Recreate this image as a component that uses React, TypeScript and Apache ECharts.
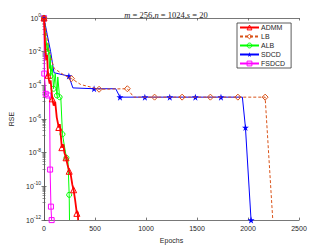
import React, { useEffect, useRef } from "react";
import * as echarts from "echarts";

// ---- data (RSE stored as log10 values) ----
const xTicks = [0, 500, 1000, 1500, 2000, 2500];
const yExponents = [0, -2, -4, -6, -8, -10, -12];

const admmEpochs = [0, 10, 22, 30, 40, 55, 65, 81, 95, 110, 125, 145, 155, 165, 175, 190, 200, 216, 230, 247, 262, 278, 290, 305, 322, 330, 335];
const admmLogRSE = [0, -1.5, -2.5, -2.2, -3.4, -3.9, -3.7, -4.8, -5.2, -5.0, -5.9, -6.5, -6.3, -7.0, -7.7, -7.5, -8.0, -8.3, -8.7, -9.1, -9.3, -9.9, -10.2, -10.8, -11.6, -11.5, -12];
const admmMarks = [1, 0, 0, 0, 1, 0, 0, 1, 0, 0, 0, 1, 0, 0, 1, 0, 0, 1, 0, 1, 0, 0, 1, 0, 1, 0, 0];

const lbEpochs = [0, 25, 50, 100, 200, 270, 360, 540, 817, 880, 1084, 1354, 1631, 1901, 2168, 2243];
const lbLogRSE = [0, -1.0, -2.0, -3.0, -3.4, -3.6, -3.95, -4.23, -4.2, -4.7, -4.7, -4.7, -4.7, -4.7, -4.7, -12];
const lbMarks = [1, 0, 0, 0, 0, 1, 0, 1, 1, 0, 1, 1, 1, 1, 1, 0];

const albEpochs = [0, 20, 32, 40, 55, 62, 65, 80, 94, 110, 127, 135, 153, 165, 181, 200, 220, 235, 247, 250];
const albLogRSE = [0, -1.3, -2.0, -1.5, -3.0, -2.2, -3.45, -2.8, -4.2, -3.3, -4.6, -3.5, -4.7, -4.75, -6.9, -7.6, -8.3, -8.5, -10.5, -12];
const albMarks = [1, 0, 1, 0, 0, 0, 1, 0, 1, 0, 1, 0, 1, 0, 1, 0, 1, 0, 1, 0];

const sdcdEpochs = [0, 32, 65, 98, 244, 283, 491, 703, 745, 989, 1233, 1484, 1735, 1945, 1975, 2030];
const sdcdLogRSE = [0, -1.0, -2.0, -3.25, -3.45, -4.15, -4.2, -4.2, -4.7, -4.7, -4.7, -4.7, -4.7, -4.7, -6.5, -12];
const sdcdMarks = [1, 0, 0, 0, 1, 0, 1, 0, 1, 1, 1, 1, 1, 0, 1, 1];

const fsdcdEpochs = [0, 3, 17, 42, 55, 60, 68, 75];
const fsdcdLogRSE = [0, -3.3, -4.5, -4.6, -4.7, -9.0, -11.2, -12];
const fsdcdMarks = [1, 1, 1, 1, 0, 1, 1, 1];

const seriesNames = ["ADMM", "LB", "ALB", "SDCD", "FSDCD"];
const seriesColors = ["#FF0000", "#D95319", "#00FF00", "#0000FF", "#FF00FF"];

const STAR = "path://M50,0 L61,35 L98,35 L68,57 L79,91 L50,70 L21,91 L32,57 L2,35 L39,35 Z";

function toData(ep: number[], lg: number[], mk: number[]) {
  return ep.map((x, i) => ({
    value: [x, Math.pow(10, lg[i])],
    symbol: mk[i] ? undefined : "none",
  }));
}

export default function App() {
  const ref = useRef<HTMLDivElement>(null);
  useEffect(() => {
    if (!ref.current) return;
    const chart = echarts.init(ref.current, undefined, { renderer: "svg" });
    const axisColor = "#555";
    const textColor = "#262626";
    const font = "Liberation Sans";
    const symbols = ["triangle", "diamond", "circle", STAR, "rect"];
    const mk = (
      i: number,
      ep: number[],
      lg: number[],
      marks: number[],
      size: number,
      width: number,
      dashed = false,
      filled = false
    ) => ({
      name: seriesNames[i],
      type: "line",
      data: toData(ep, lg, marks),
      symbol: symbols[i],
      symbolSize: size,
      showSymbol: true,
      showAllSymbol: true,
      z: 10 - i,
      color: seriesColors[i],
      lineStyle: { color: seriesColors[i], width, type: dashed ? [3, 2] : "solid" },
      itemStyle: {
        color: filled ? seriesColors[i] : "rgba(255,255,255,0)",
        borderColor: seriesColors[i],
        borderWidth: filled ? 0 : 1,
      },
      emphasis: { disabled: true },
    });
    const legendData = seriesNames.map((n, i) => ({
      name: n,
      itemStyle: {
        color: i === 3 ? seriesColors[i] : "rgba(255,255,255,0)",
        borderColor: seriesColors[i],
        borderWidth: i === 3 ? 0 : 1,
      },
    }));
    const option: any = {
      animation: false,
      backgroundColor: "#fff",
      title: {
        text: "{i|m} = 256,{i|n} = 1024,{i|s} = 20",
        left: "center",
        top: 5,
        textStyle: {
          fontSize: 8.5,
          fontWeight: "normal",
          fontFamily: "Liberation Serif",
          color: textColor,
          rich: {
            i: { fontSize: 8.5, fontStyle: "italic", fontFamily: "Liberation Serif", color: textColor },
          },
        },
      },
      legend: {
        data: legendData,
        orient: "vertical",
        left: 237,
        top: 23,
        itemWidth: 19,
        itemHeight: 6,
        itemGap: 2,
        padding: [1, 6, 1, 2],
        borderColor: "#333",
        borderWidth: 0.8,
        borderRadius: 0,
        backgroundColor: "#fff",
        textStyle: { fontSize: 7, color: textColor, fontFamily: font, lineHeight: 7, padding: [0, 0, 0, -3] },
      },
      grid: { left: 43, right: 33, top: 18, bottom: 27, containLabel: false },
      xAxis: [
        {
          type: "value",
          min: xTicks[0],
          max: xTicks[xTicks.length - 1],
          interval: xTicks[1] - xTicks[0],
          name: "Epochs",
          nameLocation: "middle",
          nameGap: 15,
          nameTextStyle: { fontSize: 7, color: textColor, fontFamily: font },
          axisLine: { show: true, lineStyle: { color: axisColor, width: 0.8 } },
          axisTick: { show: true, inside: true, length: 2.5, lineStyle: { color: axisColor, width: 0.8 } },
          axisLabel: { fontSize: 7, color: textColor, fontFamily: font, margin: 5, formatter: (v: number) => String(v) },
          splitLine: { show: false },
        },
        {
          type: "value",
          position: "top",
          min: xTicks[0],
          max: xTicks[xTicks.length - 1],
          interval: xTicks[1] - xTicks[0],
          axisLine: { show: true, onZero: false, lineStyle: { color: axisColor, width: 0.8 } },
          axisTick: { show: true, inside: true, length: 2.5, lineStyle: { color: axisColor, width: 0.8 } },
          axisLabel: { show: false },
          splitLine: { show: false },
        },
      ],
      yAxis: [
        {
          type: "log",
          logBase: 10,
          min: Math.pow(10, yExponents[yExponents.length - 1]),
          max: Math.pow(10, yExponents[0]),
          interval: 2,
          name: "RSE",
          nameLocation: "middle",
          nameGap: 29,
          nameRotate: 90,
          nameTextStyle: { fontSize: 7, color: textColor, fontFamily: font },
          axisLine: { show: true, lineStyle: { color: axisColor, width: 0.8 } },
          axisTick: { show: true, inside: true, length: 2.5, lineStyle: { color: axisColor, width: 0.8 } },
          minorTick: { show: true, splitNumber: 10, length: 1.5, lineStyle: { color: axisColor, width: 0.6 } },
          axisLabel: {
            margin: 3,
            fontFamily: font,
            formatter: (v: number) => {
              const e = Math.round(Math.log10(v));
              return `{b|10}{s|${e}}`;
            },
            rich: {
              b: { fontSize: 7, color: textColor, fontFamily: font },
              s: { fontSize: 5, color: textColor, fontFamily: font, padding: [0, 0, 6, 0] },
            },
          },
          splitLine: { show: false },
        },
        {
          type: "log",
          logBase: 10,
          position: "right",
          min: Math.pow(10, yExponents[yExponents.length - 1]),
          max: Math.pow(10, yExponents[0]),
          interval: 2,
          axisLine: { show: true, lineStyle: { color: axisColor, width: 0.8 } },
          axisTick: { show: true, inside: true, length: 2.5, lineStyle: { color: axisColor, width: 0.8 } },
          minorTick: { show: true, splitNumber: 10, length: 1.5, lineStyle: { color: axisColor, width: 0.6 } },
          axisLabel: { show: false },
          splitLine: { show: false },
        },
      ],
      series: [
        mk(0, admmEpochs, admmLogRSE, admmMarks, 6, 1.8),
        mk(1, lbEpochs, lbLogRSE, lbMarks, 6, 1, true),
        mk(2, albEpochs, albLogRSE, albMarks, 5, 1),
        mk(3, sdcdEpochs, sdcdLogRSE, sdcdMarks, 7, 1, false, true),
        mk(4, fsdcdEpochs, fsdcdLogRSE, fsdcdMarks, 5, 1),
      ],
    };
    chart.setOption(option);
    return () => chart.dispose();
  }, []);
  return (
    <div
      ref={ref}
      style={{ position: "fixed", left: 0, top: 0, width: 332, height: 249, background: "#fff" }}
    />
  );
}
